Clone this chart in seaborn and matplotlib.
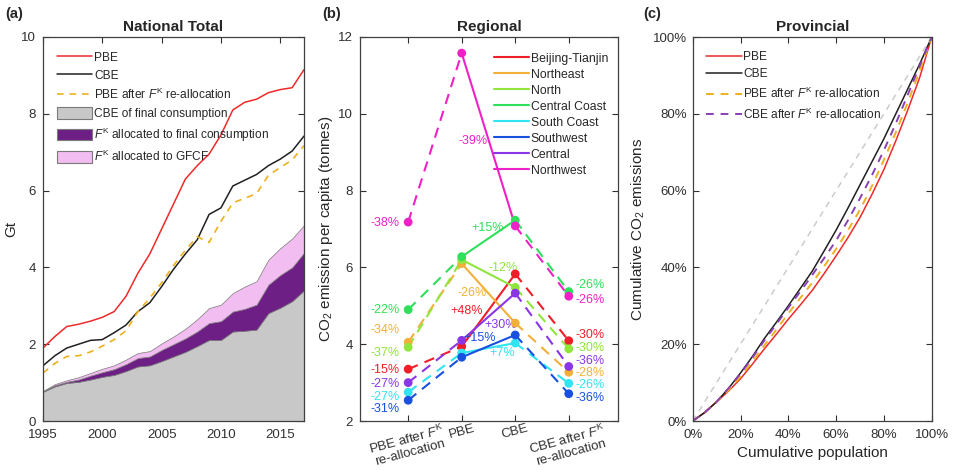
import numpy as np
import pandas as pd
import matplotlib
matplotlib.use("Agg")
import matplotlib.pyplot as plt
from matplotlib.lines import Line2D
from matplotlib.patches import Patch
import seaborn as sns

# ---------------- data ----------------
years = list(range(1995, 2018))
pbe_total = [1.90, 2.20, 2.46, 2.52, 2.60, 2.70, 2.85, 3.25, 3.85, 4.35, 5.00, 5.65,
             6.30, 6.65, 6.95, 7.45, 8.10, 8.30, 8.38, 8.55, 8.63, 8.68, 9.15]
cbe_total = [1.44, 1.70, 1.90, 2.00, 2.10, 2.12, 2.30, 2.50, 2.85, 3.08, 3.50, 3.95,
             4.35, 4.72, 5.38, 5.55, 6.12, 6.27, 6.42, 6.65, 6.82, 7.03, 7.42]
pbe_after_total = [1.25, 1.50, 1.68, 1.70, 1.80, 1.95, 2.12, 2.35, 2.85, 3.20, 3.60, 4.05,
                   4.45, 4.80, 4.65, 5.20, 5.68, 5.80, 5.92, 6.40, 6.60, 6.80, 7.17]
cbe_final = [0.76, 0.90, 0.99, 1.02, 1.08, 1.15, 1.20, 1.30, 1.42, 1.45, 1.56, 1.68,
             1.80, 1.95, 2.11, 2.11, 2.33, 2.35, 2.38, 2.81, 2.95, 3.12, 3.40]
fk_final = [0.01, 0.03, 0.03, 0.06, 0.10, 0.12, 0.15, 0.18, 0.22, 0.23, 0.29, 0.32,
            0.35, 0.38, 0.44, 0.49, 0.52, 0.57, 0.65, 0.74, 0.85, 0.88, 0.98]
fk_gfcf = [0.01, 0.03, 0.04, 0.06, 0.07, 0.09, 0.10, 0.12, 0.13, 0.14, 0.17, 0.20,
           0.25, 0.32, 0.39, 0.43, 0.48, 0.58, 0.61, 0.65, 0.70, 0.75, 0.72]

regions = ["Beijing-Tianjin", "Northeast", "North", "Central Coast",
           "South Coast", "Southwest", "Central", "Northwest"]
stages = ["PBE after $\\mathit{F}^{\\mathrm{K}}$\nre-allocation", "PBE", "CBE",
          "CBE after $\\mathit{F}^{\\mathrm{K}}$\nre-allocation"]
reg_pbe_after = [3.35, 4.05, 3.92, 4.90, 2.75, 2.54, 3.00, 7.18]
reg_pbe = [3.94, 6.10, 6.20, 6.28, 3.77, 3.66, 4.10, 11.58]
reg_cbe = [5.83, 4.55, 5.48, 7.23, 4.03, 4.24, 5.33, 7.08]
reg_cbe_after = [4.09, 3.27, 3.88, 5.37, 2.98, 2.71, 3.42, 5.25]
pct_pbe_after = ["-15%", "-34%", "-37%", "-22%", "-27%", "-31%", "-27%", "-38%"]
pct_pbe_to_cbe = ["+48%", "-26%", "-12%", "+15%", "+7%", "+15%", "+30%", "-39%"]
pct_cbe_after = ["-30%", "-28%", "-30%", "-26%", "-26%", "-36%", "-36%", "-26%"]

pop_share = [0, 0.05, 0.10, 0.15, 0.20, 0.25, 0.30, 0.35, 0.40, 0.45, 0.50,
             0.55, 0.60, 0.65, 0.70, 0.75, 0.80, 0.85, 0.90, 0.95, 1.0]
lorenz_pbe = [0, 0.022, 0.050, 0.078, 0.110, 0.148, 0.188, 0.226, 0.265, 0.302, 0.340,
              0.384, 0.430, 0.478, 0.530, 0.590, 0.655, 0.730, 0.810, 0.895, 1.0]
lorenz_cbe = [0, 0.022, 0.050, 0.085, 0.125, 0.168, 0.215, 0.257, 0.300, 0.345, 0.390,
              0.443, 0.497, 0.555, 0.615, 0.675, 0.735, 0.800, 0.865, 0.930, 1.0]
lorenz_pbe_after = [0, 0.022, 0.050, 0.080, 0.115, 0.155, 0.197, 0.238, 0.280, 0.320, 0.360,
                    0.403, 0.448, 0.497, 0.550, 0.612, 0.680, 0.752, 0.830, 0.912, 1.0]
lorenz_cbe_after = [0, 0.022, 0.050, 0.085, 0.123, 0.165, 0.210, 0.252, 0.295, 0.337, 0.380,
                    0.424, 0.470, 0.523, 0.580, 0.640, 0.705, 0.775, 0.850, 0.925, 1.0]
equality = [0, 1]

# ---------------- style ----------------
sns.set_theme(style="ticks")
plt.rcParams["font.family"] = ["Liberation Sans", "DejaVu Sans"]
plt.rcParams["mathtext.fontset"] = "custom"
plt.rcParams["mathtext.rm"] = "Liberation Sans"
plt.rcParams["mathtext.it"] = "Liberation Sans:italic"
plt.rcParams["axes.edgecolor"] = "#404040"
plt.rcParams["axes.linewidth"] = 0.9

FK = "$\\mathit{F}^{\\mathrm{K}}$"
TICK_FS = 9.5
fig = plt.figure(figsize=(9.56, 4.70), dpi=100)
ax_a = fig.add_axes([43 / 956, 49 / 470, 261 / 956, 384 / 470])
ax_b = fig.add_axes([360 / 956, 49 / 470, 258 / 956, 384 / 470])
ax_c = fig.add_axes([692.7 / 956, 49 / 470, 239 / 956, 384 / 470])


def matlab_box(ax):
    ax.tick_params(direction="in", top=True, right=True, length=4,
                   width=0.8, labelsize=TICK_FS, colors="#303030", pad=3)
    for s in ax.spines.values():
        s.set_visible(True)


# ---------------- (a) National Total ----------------
c_gray, c_dpurple, c_pink = "#c8c8c8", "#6e1f86", "#f2bdf0"
ax_a.stackplot(years, cbe_final, fk_final, fk_gfcf,
               colors=[c_gray, c_dpurple, c_pink],
               edgecolor="#7a7a7a", linewidth=0.5)
df_a = pd.DataFrame({"year": years, "PBE": pbe_total, "CBE": cbe_total,
                     "PBEa": pbe_after_total})
sns.lineplot(data=df_a, x="year", y="PBE", ax=ax_a, color="#ee2a2a", lw=1.1)
sns.lineplot(data=df_a, x="year", y="CBE", ax=ax_a, color="#202020", lw=1.1)
sns.lineplot(data=df_a, x="year", y="PBEa", ax=ax_a, color="#edb120", lw=1.2)
ax_a.lines[-1].set_dashes((4, 3.5))
ax_a.set_xlim(1995, 2017)
ax_a.set_ylim(0, 10)
ax_a.set_xticks([1995, 2000, 2005, 2010, 2015])
ax_a.set_yticks([0, 2, 4, 6, 8, 10])
ax_a.set_xlabel("")
ax_a.set_ylabel("Gt", fontsize=11)
ax_a.yaxis.set_label_coords(-0.096, 0.5)
ax_a.set_title("National Total", fontsize=11, fontweight="bold", pad=4)
matlab_box(ax_a)
ax_a.tick_params(axis="y", pad=5)
ax_a.tick_params(axis="x", pad=6)
handles_a = [
    Line2D([], [], color="#ee2a2a", lw=1.1),
    Line2D([], [], color="#202020", lw=1.1),
    Line2D([], [], color="#edb120", lw=1.2, dashes=(4, 3.5)),
    Patch(facecolor=c_gray, edgecolor="#7a7a7a", lw=0.8),
    Patch(facecolor=c_dpurple, edgecolor="#7a7a7a", lw=0.8),
    Patch(facecolor=c_pink, edgecolor="#7a7a7a", lw=0.8),
]
labels_a = ["PBE", "CBE", "PBE after " + FK + " re-allocation",
            "CBE of final consumption", FK + " allocated to final consumption",
            FK + " allocated to GFCF"]
ax_a.legend(handles_a, labels_a, loc="upper left", frameon=False, fontsize=8.6,
            handlelength=3.0, handleheight=1.15, handletextpad=0.15,
            labelspacing=0.42, borderaxespad=0.3, bbox_to_anchor=(0.02, 0.985))

# ---------------- (b) Regional ----------------
reg_colors = ["#f01e28", "#f2b03a", "#90e63c", "#2fe05a",
              "#30e4f2", "#1a50e0", "#8a35e6", "#f020c8"]
positions = [1, 2, 3, 4]
rows = []
for i, r in enumerate(regions):
    for p, v in zip(positions, [reg_pbe_after[i], reg_pbe[i], reg_cbe[i], reg_cbe_after[i]]):
        rows.append({"region": r, "pos": p, "value": v})
df_b = pd.DataFrame(rows)
pal = dict(zip(regions, reg_colors))
for i, r in enumerate(regions):
    d = df_b[df_b.region == r]
    left = d[d.pos.isin([1, 2])]
    mid = d[d.pos.isin([2, 3])]
    right = d[d.pos.isin([3, 4])]
    sns.lineplot(data=left, x="pos", y="value", ax=ax_b, color=pal[r], lw=1.5)
    ax_b.lines[-1].set_dashes((5, 3.5))
    sns.lineplot(data=right, x="pos", y="value", ax=ax_b, color=pal[r], lw=1.5)
    ax_b.lines[-1].set_dashes((5, 3.5))
    sns.lineplot(data=mid, x="pos", y="value", ax=ax_b, color=pal[r], lw=1.5)
    sns.scatterplot(data=d, x="pos", y="value", ax=ax_b, color=pal[r], s=40,
                    edgecolor="none", zorder=4)

# percentage annotations
left_y = [3.33, 4.36, 3.78, 4.88, 2.63, 2.30, 2.97, 7.16]
right_y = [4.25, 3.26, 3.90, 5.55, 2.93, 2.59, 3.57, 5.14]
mid_xy = [(2.09, 4.87), (2.19, 5.33), (2.78, 5.99), (2.49, 7.03),
          (2.75, 3.78), (2.33, 4.16), (2.72, 4.51), (2.21, 9.29)]
ANN_FS = 9
for i in range(len(regions)):
    col = reg_colors[i]
    ax_b.text(0.84, left_y[i], pct_pbe_after[i], color=col, fontsize=ANN_FS,
              ha="right", va="center")
    ax_b.text(4.12, right_y[i], pct_cbe_after[i], color=col, fontsize=ANN_FS,
              ha="left", va="center")
    ax_b.text(mid_xy[i][0], mid_xy[i][1], pct_pbe_to_cbe[i], color=col,
              fontsize=ANN_FS, ha="center", va="center")

ax_b.set_xlim(0.1, 4.92)
ax_b.set_ylim(2, 12)
ax_b.set_yticks([2, 4, 6, 8, 10, 12])
ax_b.set_xticks(positions)
ax_b.set_xticklabels(stages, rotation=15, ha="center", fontsize=9.5,
                     linespacing=1.0)
ax_b.set_xlabel("")
ax_b.set_ylabel("CO$_2$ emission per capita (tonnes)", fontsize=11)
ax_b.yaxis.set_label_coords(-0.097, 0.5)
ax_b.set_title("Regional", fontsize=11, fontweight="bold", pad=4)
matlab_box(ax_b)
ax_b.tick_params(axis="x", pad=1)
ax_b.tick_params(axis="y", pad=5)
handles_b = [Line2D([], [], color=c, lw=1.5) for c in reg_colors]
ax_b.legend(handles_b, regions, loc="upper right", frameon=False, fontsize=8.8,
            handlelength=2.9, handletextpad=0.15, labelspacing=0.33,
            borderaxespad=0.4, bbox_to_anchor=(1.0, 0.985))

# ---------------- (c) Provincial ----------------
df_c = pd.DataFrame({"pop": pop_share, "PBE": lorenz_pbe, "CBE": lorenz_cbe,
                     "PBEa": lorenz_pbe_after, "CBEa": lorenz_cbe_after})
ax_c.plot(equality, equality, color="#cccccc", lw=1.1, dashes=(4, 3.5))
sns.lineplot(data=df_c, x="pop", y="PBE", ax=ax_c, color="#ee2a2a", lw=1.1)
sns.lineplot(data=df_c, x="pop", y="CBE", ax=ax_c, color="#202020", lw=1.1)
sns.lineplot(data=df_c, x="pop", y="PBEa", ax=ax_c, color="#edb120", lw=1.4)
ax_c.lines[-1].set_dashes((4, 3.5))
sns.lineplot(data=df_c, x="pop", y="CBEa", ax=ax_c, color="#8a3fb4", lw=1.4)
ax_c.lines[-1].set_dashes((4, 3.5))
ax_c.set_xlim(0, 1)
ax_c.set_ylim(0, 1)
ticks = [0, 0.2, 0.4, 0.6, 0.8, 1.0]
ax_c.set_xticks(ticks)
ax_c.set_yticks(ticks)
ax_c.set_xticklabels([f"{int(round(t * 100))}%" for t in ticks])
ax_c.set_yticklabels([f"{int(round(t * 100))}%" for t in ticks])
ax_c.set_xlabel("Cumulative population", fontsize=11, labelpad=3)
ax_c.set_ylabel("Cumulative CO$_2$ emissions", fontsize=11)
ax_c.yaxis.set_label_coords(-0.19, 0.5)
ax_c.set_title("Provincial", fontsize=11, fontweight="bold", pad=4)
matlab_box(ax_c)
ax_c.tick_params(axis="x", pad=6)
ax_c.tick_params(axis="y", pad=4)
handles_c = [
    Line2D([], [], color="#ee2a2a", lw=1.1),
    Line2D([], [], color="#202020", lw=1.1),
    Line2D([], [], color="#edb120", lw=1.4, dashes=(4, 3.5)),
    Line2D([], [], color="#8a3fb4", lw=1.4, dashes=(4, 3.5)),
]
labels_c = ["PBE", "CBE", "PBE after " + FK + " re-allocation",
            "CBE after " + FK + " re-allocation"]
ax_c.legend(handles_c, labels_c, loc="upper left", frameon=False, fontsize=8.6,
            handlelength=3.0, handletextpad=0.15, labelspacing=0.45,
            borderaxespad=0.3, bbox_to_anchor=(0.02, 0.985))

# panel letters
for x, lab in [(5, "(a)"), (322, "(b)"), (643, "(c)")]:
    fig.text(x / 956, 1 - 14 / 470, lab, fontsize=10.5, fontweight="bold",
             ha="left", va="center")

fig.savefig("out.png", dpi=100)
